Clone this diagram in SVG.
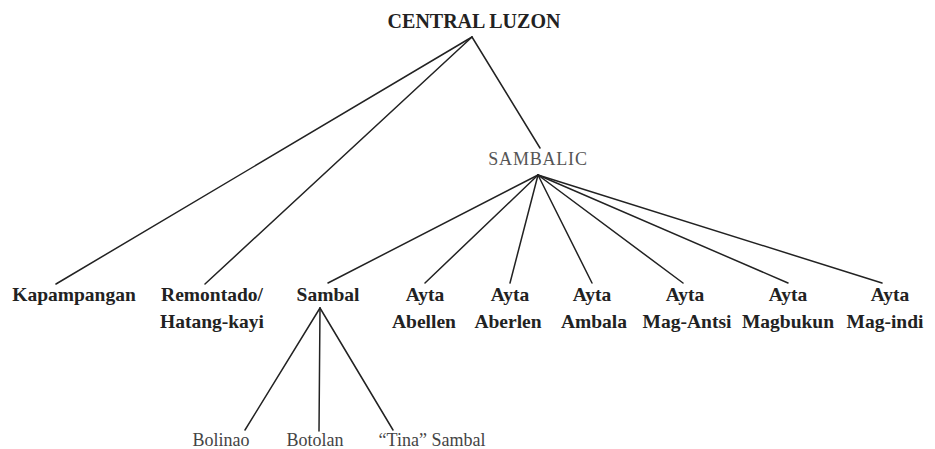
<svg xmlns="http://www.w3.org/2000/svg" width="935" height="449" viewBox="0 0 935 449">
<style>
  .edge { stroke: #222; stroke-width: 1.5; fill: none; stroke-linecap: round; }
  .root { font-family: "Liberation Serif", serif; font-weight: bold; font-size: 20px; fill: #222; text-anchor: middle; }
  .mid { font-family: "Liberation Serif", serif; font-size: 18px; fill: #555; text-anchor: middle; letter-spacing: 0.8px; }
  .leaf { font-family: "Liberation Serif", serif; font-weight: bold; font-size: 19.5px; fill: #222; text-anchor: middle; }
  .sub { font-family: "Liberation Serif", serif; font-size: 18px; fill: #444; text-anchor: middle; }
</style>
<rect width="935" height="449" fill="#fff"/>
<g id="connectors">
  <line class="edge" x1="472" y1="37" x2="56" y2="284"/>
  <line class="edge" x1="472" y1="37" x2="205" y2="284"/>
  <line class="edge" x1="472" y1="37" x2="540" y2="148"/>
  <line class="edge" x1="538" y1="175" x2="328" y2="283"/>
  <line class="edge" x1="538" y1="175" x2="425" y2="283"/>
  <line class="edge" x1="538" y1="175" x2="510" y2="283"/>
  <line class="edge" x1="538" y1="175" x2="592" y2="283"/>
  <line class="edge" x1="538" y1="175" x2="683" y2="283"/>
  <line class="edge" x1="538" y1="175" x2="788" y2="283"/>
  <line class="edge" x1="538" y1="175" x2="882" y2="283"/>
  <line class="edge" x1="320" y1="308" x2="245" y2="430"/>
  <line class="edge" x1="320" y1="308" x2="319" y2="431"/>
  <line class="edge" x1="320" y1="308" x2="393" y2="430"/>
</g>
<g id="central-luzon"><text class="root" x="474" y="28">CENTRAL LUZON</text></g>
<g id="sambalic"><text class="mid" x="538" y="165">SAMBALIC</text></g>
<g id="kapampangan"><text class="leaf" x="74" y="301">Kapampangan</text></g>
<g id="remontado"><text class="leaf" x="212" y="301">Remontado/</text><text class="leaf" x="212" y="328">Hatang-kayi</text></g>
<g id="sambal"><text class="leaf" x="328" y="301">Sambal</text></g>
<g id="ayta-abellen"><text class="leaf" x="425" y="301">Ayta</text><text class="leaf" x="424" y="328">Abellen</text></g>
<g id="ayta-aberlen"><text class="leaf" x="510" y="301">Ayta</text><text class="leaf" x="508" y="328">Aberlen</text></g>
<g id="ayta-ambala"><text class="leaf" x="592" y="301">Ayta</text><text class="leaf" x="594" y="328">Ambala</text></g>
<g id="ayta-mag-antsi"><text class="leaf" x="685" y="301">Ayta</text><text class="leaf" x="687" y="328">Mag-Antsi</text></g>
<g id="ayta-magbukun"><text class="leaf" x="788" y="301">Ayta</text><text class="leaf" x="788" y="328">Magbukun</text></g>
<g id="ayta-mag-indi"><text class="leaf" x="890" y="301">Ayta</text><text class="leaf" x="885" y="328">Mag-indi</text></g>
<g id="bolinao"><text class="sub" x="221" y="446">Bolinao</text></g>
<g id="botolan"><text class="sub" x="315" y="446">Botolan</text></g>
<g id="tina-sambal"><text class="sub" x="432" y="446">“Tina” Sambal</text></g>
</svg>
